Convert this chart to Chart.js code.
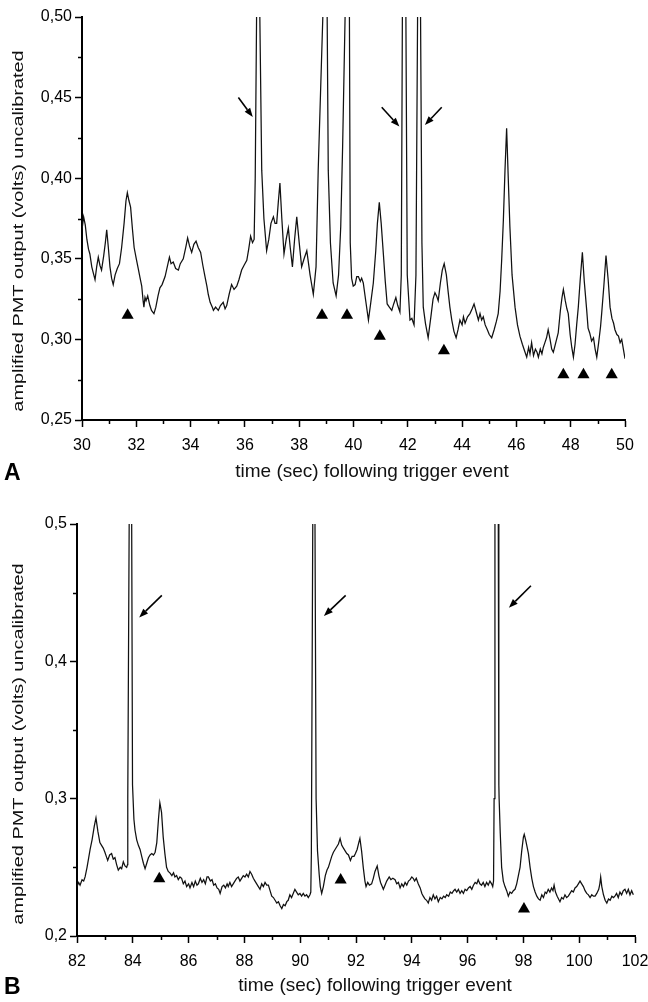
<!DOCTYPE html>
<html>
<head>
<meta charset="utf-8">
<script src="https://cdn.jsdelivr.net/npm/chart.js@4.4.1/dist/chart.umd.min.js"></script>
<style>
  html, body { margin: 0; padding: 0; background: #fff; }
  body { width: 648px; height: 1002px; position: relative; overflow: hidden; font-family: "Liberation Sans", Arial, sans-serif; }
  .panel { position: absolute; left: 0; width: 648px; }
  #panelA { top: 0; height: 490px; }
  #panelB { top: 490px; height: 512px; }
  .tag { position: absolute; left: 4px; font-weight: bold; font-size: 23px; color: #000; }
</style>
</head>
<body>
<div class="panel" id="panelA"><canvas id="chartA"></canvas></div>
<div class="panel" id="panelB"><canvas id="chartB"></canvas></div>
<div class="tag" style="top:459px">A</div>
<div class="tag" style="top:973px">B</div>

<script>
// ------------------------------------------------------------
// Data
// ------------------------------------------------------------
const timeA = [
  30.00, 30.06, 30.12, 30.18, 30.24, 30.29, 30.36, 30.42, 30.48, 30.54, 30.60, 30.66, 30.72, 30.80, 30.86, 30.91, 30.97,
  31.03, 31.09, 31.15, 31.22, 31.30, 31.38, 31.46, 31.55, 31.62, 31.67, 31.73, 31.79, 31.86, 31.92,
  32.00, 32.07, 32.14, 32.20, 32.25, 32.28, 32.32, 32.36, 32.42, 32.50, 32.56, 32.65, 32.72, 32.80, 32.87, 32.95,
  33.06, 33.14, 33.22, 33.28, 33.36, 33.45, 33.55, 33.62, 33.73, 33.82, 33.89, 33.96,
  34.04, 34.12, 34.20, 34.28, 34.37, 34.45, 34.53, 34.60, 34.65, 34.72, 34.80, 34.84, 34.92,
  35.02, 35.10, 35.20, 35.27, 35.33, 35.42, 35.51, 35.60, 35.70, 35.78, 35.88, 35.97,
  36.07, 36.14, 36.21, 36.28, 36.34, 36.38, 36.43, 36.48, 36.55, 36.62, 36.70, 36.80, 36.88, 36.96,
  37.05, 37.11, 37.17, 37.23, 37.29, 37.36, 37.44, 37.52, 37.60, 37.67, 37.75, 37.83, 37.91,
  38.00, 38.09, 38.18, 38.28, 38.40, 38.52, 38.62, 38.70, 38.87, 38.97,
  39.03, 39.07, 39.15, 39.25, 39.36, 39.45, 39.53, 39.60, 39.69, 39.77, 39.85, 39.88, 39.93, 39.99,
  40.06, 40.12, 40.18, 40.25, 40.30, 40.36, 40.45, 40.55, 40.63, 40.73, 40.82, 40.88, 40.95,
  41.02, 41.10, 41.17, 41.24, 41.32, 41.41, 41.48, 41.56, 41.63, 41.71, 41.76, 41.80, 41.865, 41.93, 41.98,
  42.08, 42.15, 42.23, 42.30, 42.36, 42.415, 42.47, 42.52, 42.57, 42.65, 42.75, 42.85, 42.93,
  43.00, 43.06, 43.12, 43.20, 43.27, 43.34, 43.42, 43.49, 43.55, 43.62, 43.70, 43.78, 43.85, 43.92,
  44.00, 44.05, 44.11, 44.20, 44.29, 44.37, 44.44, 44.52, 44.60, 44.66, 44.72, 44.78, 44.85, 44.93,
  45.00, 45.09, 45.18, 45.26, 45.33, 45.40, 45.46, 45.52, 45.58, 45.64, 45.70, 45.76, 45.84, 45.95,
  46.04, 46.13, 46.22, 46.30, 46.38, 46.45, 46.50, 46.56, 46.63, 46.70, 46.76, 46.81, 46.88, 46.94, 46.99,
  47.05, 47.11, 47.17, 47.24, 47.30, 47.36, 47.42, 47.48, 47.54, 47.62, 47.68, 47.73, 47.80, 47.86, 47.91, 47.98,
  48.04, 48.10, 48.16, 48.22, 48.28, 48.35, 48.43, 48.50, 48.59, 48.64, 48.70, 48.77, 48.84, 48.90, 48.96,
  49.03, 49.10, 49.14, 49.22, 49.30, 49.38, 49.45, 49.52, 49.58, 49.63, 49.70, 49.76, 49.82, 49.88, 49.94, 50.00,
];
const voltA = [
  0.368, 0.376, 0.371, 0.362, 0.356, 0.353, 0.345, 0.341, 0.337, 0.345, 0.351, 0.346, 0.343, 0.352, 0.360, 0.368, 0.357,
  0.345, 0.338, 0.334, 0.340, 0.344, 0.347, 0.357, 0.372, 0.386, 0.391, 0.386, 0.382, 0.368, 0.357,
  0.350, 0.344, 0.338, 0.333, 0.324, 0.320, 0.326, 0.324, 0.327, 0.321, 0.318, 0.316, 0.320, 0.327, 0.332, 0.334,
  0.339, 0.345, 0.351, 0.347, 0.348, 0.344, 0.343, 0.347, 0.350, 0.357, 0.363, 0.358,
  0.354, 0.359, 0.361, 0.357, 0.354, 0.346, 0.339, 0.333, 0.328, 0.323, 0.320, 0.318, 0.320,
  0.318, 0.321, 0.323, 0.319, 0.321, 0.328, 0.334, 0.331, 0.333, 0.337, 0.343, 0.346,
  0.349, 0.356, 0.364, 0.360, 0.362, 0.400, 0.500, 0.600, 0.500, 0.405, 0.375, 0.355, 0.362, 0.372,
  0.376, 0.372, 0.372, 0.385, 0.397, 0.375, 0.353, 0.362, 0.369, 0.357, 0.345, 0.362, 0.376,
  0.360, 0.345, 0.350, 0.355, 0.340, 0.328, 0.345, 0.405, 0.500, 0.600,
  0.500, 0.405, 0.360, 0.335, 0.327, 0.340, 0.370, 0.420, 0.500, 0.650, 0.500, 0.360, 0.338, 0.333,
  0.334, 0.339, 0.339, 0.336, 0.338, 0.335, 0.324, 0.312, 0.322, 0.335, 0.355, 0.372, 0.385,
  0.372, 0.353, 0.336, 0.322, 0.320, 0.318, 0.322, 0.326, 0.321, 0.317, 0.340, 0.500, 0.750, 0.500, 0.340,
  0.312, 0.313, 0.309, 0.340, 0.500, 0.750, 0.500, 0.360, 0.320, 0.310, 0.301, 0.314, 0.325,
  0.329, 0.327, 0.324, 0.335, 0.343, 0.347, 0.340, 0.329, 0.320, 0.312, 0.305, 0.301, 0.306, 0.312,
  0.309, 0.314, 0.310, 0.314, 0.316, 0.319, 0.322, 0.317, 0.312, 0.316, 0.312, 0.314, 0.309, 0.306,
  0.303, 0.301, 0.306, 0.311, 0.316, 0.330, 0.350, 0.374, 0.405, 0.431, 0.400, 0.370, 0.340, 0.320,
  0.309, 0.302, 0.297, 0.293, 0.289, 0.295, 0.291, 0.298, 0.290, 0.294, 0.292, 0.289, 0.294, 0.291, 0.295,
  0.298, 0.301, 0.306, 0.300, 0.294, 0.292, 0.296, 0.300, 0.304, 0.318, 0.326, 0.331, 0.324, 0.319, 0.316, 0.303,
  0.295, 0.289, 0.297, 0.309, 0.320, 0.337, 0.354, 0.336, 0.318, 0.307, 0.304, 0.299, 0.301, 0.294, 0.289,
  0.298, 0.308, 0.316, 0.333, 0.352, 0.337, 0.320, 0.313, 0.310, 0.306, 0.303, 0.302, 0.298, 0.300, 0.294, 0.288,
];
const markTimeA = [31.68, 38.84, 39.76, 40.97, 43.33, 47.73, 48.47, 49.51];
const markVoltA = [0.315, 0.315, 0.315, 0.302, 0.293, 0.278, 0.278, 0.278];
const arrowTailA = [[35.76, 0.450], [41.04, 0.444], [43.25, 0.444]];
const arrowTipA = [[36.29, 0.438], [41.69, 0.432], [42.63, 0.433]];

const timeB = [
  82.00, 82.06, 82.11, 82.18, 82.24, 82.29, 82.36, 82.42, 82.47, 82.54, 82.62, 82.68, 82.75, 82.82, 82.88, 82.94,
  83.00, 83.05, 83.10, 83.17, 83.24, 83.30, 83.36, 83.42, 83.48, 83.55, 83.60, 83.66, 83.72, 83.78, 83.81, 83.82, 83.87, 83.915, 83.96, 83.99,
  84.04, 84.08, 84.14, 84.20, 84.26, 84.33, 84.38, 84.44, 84.50, 84.56, 84.62, 84.68, 84.74, 84.80, 84.86, 84.92, 84.97,
  85.03, 85.09, 85.15, 85.21, 85.27, 85.33, 85.40, 85.46, 85.51, 85.57, 85.63, 85.69, 85.75, 85.81, 85.87, 85.93,
  86.00, 86.05, 86.12, 86.18, 86.24, 86.30, 86.35, 86.42, 86.48, 86.54, 86.60, 86.66, 86.71, 86.78, 86.84, 86.90, 86.96,
  87.02, 87.08, 87.13, 87.20, 87.26, 87.32, 87.38, 87.42, 87.48, 87.54, 87.60, 87.66, 87.72, 87.78, 87.84, 87.90, 87.96,
  88.02, 88.08, 88.14, 88.20, 88.26, 88.32, 88.38, 88.44, 88.50, 88.56, 88.62, 88.68, 88.74, 88.80, 88.86, 88.92, 88.98,
  89.04, 89.10, 89.16, 89.22, 89.28, 89.34, 89.40, 89.46, 89.52, 89.57, 89.63, 89.69, 89.75, 89.81, 89.87, 89.93, 89.99,
  90.05, 90.11, 90.17, 90.23, 90.29, 90.35, 90.38, 90.40, 90.45, 90.49, 90.53, 90.57, 90.62, 90.68, 90.72, 90.77, 90.83, 90.90, 90.96,
  91.01, 91.07, 91.13, 91.19, 91.25, 91.31, 91.37, 91.43, 91.49, 91.55, 91.61, 91.67, 91.73, 91.80, 91.86, 91.93, 91.98,
  92.04, 92.10, 92.14, 92.20, 92.26, 92.32, 92.36, 92.42, 92.48, 92.56, 92.62, 92.68, 92.76, 92.82, 92.88, 92.94, 92.98,
  93.04, 93.10, 93.19, 93.25, 93.32, 93.40, 93.46, 93.52, 93.58, 93.64, 93.70, 93.76, 93.82, 93.88, 93.94,
  94.00, 94.05, 94.10, 94.16, 94.23, 94.30, 94.36, 94.41, 94.47, 94.53, 94.59, 94.65, 94.71, 94.77, 94.83, 94.89, 94.95,
  95.02, 95.08, 95.14, 95.20, 95.25, 95.32, 95.38, 95.44, 95.50, 95.55, 95.61, 95.67, 95.73, 95.79, 95.85, 95.91, 95.97,
  96.03, 96.09, 96.15, 96.21, 96.27, 96.33, 96.38, 96.44, 96.50, 96.56, 96.62, 96.68, 96.74, 96.80, 96.86, 96.90, 96.93, 96.95, 96.98,
  97.04, 97.10, 97.12, 97.13, 97.17, 97.22, 97.28, 97.34, 97.40, 97.46, 97.52, 97.58, 97.64, 97.70, 97.76, 97.82, 97.88, 97.94,
  98.00, 98.03, 98.08, 98.13, 98.18, 98.24, 98.30, 98.36, 98.42, 98.48, 98.54, 98.60, 98.66, 98.72, 98.78, 98.83, 98.89, 98.95,
  99.01, 99.06, 99.10, 99.15, 99.21, 99.26, 99.31, 99.37, 99.43, 99.49, 99.55, 99.61, 99.67, 99.73, 99.79, 99.85, 99.91, 99.97,
  100.03, 100.09, 100.15, 100.21, 100.27, 100.33, 100.39, 100.45, 100.51, 100.57, 100.63, 100.70, 100.74, 100.77, 100.81, 100.87, 100.93, 100.99,
  101.05, 101.11, 101.17, 101.23, 101.28, 101.34, 101.40, 101.46, 101.52, 101.58, 101.64, 101.70, 101.76, 101.82, 101.88, 101.94,
];
const voltB = [
  0.236, 0.239, 0.237, 0.241, 0.240, 0.243, 0.250, 0.257, 0.263, 0.270, 0.280, 0.286, 0.276, 0.268, 0.266, 0.264,
  0.261, 0.258, 0.255, 0.259, 0.260, 0.256, 0.257, 0.252, 0.248, 0.250, 0.249, 0.254, 0.251, 0.250, 0.252, 0.300, 0.500, 0.650, 0.500, 0.310,
  0.285, 0.277, 0.270, 0.266, 0.263, 0.257, 0.253, 0.249, 0.253, 0.257, 0.259, 0.260, 0.259, 0.261, 0.268, 0.285, 0.297,
  0.290, 0.272, 0.260, 0.250, 0.247, 0.246, 0.244, 0.246, 0.243, 0.244, 0.241, 0.243, 0.242, 0.238, 0.240, 0.236,
  0.238, 0.235, 0.239, 0.236, 0.240, 0.237, 0.238, 0.242, 0.239, 0.241, 0.238, 0.243, 0.243, 0.240, 0.241, 0.237, 0.238,
  0.235, 0.234, 0.231, 0.236, 0.237, 0.235, 0.238, 0.236, 0.239, 0.236, 0.238, 0.240, 0.242, 0.243, 0.240, 0.242, 0.244,
  0.243, 0.245, 0.243, 0.247, 0.245, 0.242, 0.240, 0.238, 0.236, 0.234, 0.238, 0.236, 0.239, 0.237, 0.237, 0.233, 0.229,
  0.228, 0.226, 0.224, 0.225, 0.222, 0.220, 0.223, 0.222, 0.225, 0.226, 0.230, 0.228, 0.231, 0.234, 0.232, 0.230, 0.231,
  0.229, 0.231, 0.229, 0.230, 0.228, 0.230, 0.232, 0.260, 0.500, 0.650, 0.500, 0.300, 0.262, 0.245, 0.236, 0.231, 0.236, 0.244, 0.248,
  0.250, 0.254, 0.258, 0.261, 0.263, 0.265, 0.267, 0.271, 0.266, 0.264, 0.262, 0.260, 0.259, 0.255, 0.258, 0.258, 0.260,
  0.263, 0.268, 0.271, 0.262, 0.250, 0.240, 0.236, 0.239, 0.237, 0.238, 0.242, 0.247, 0.251, 0.244, 0.239, 0.236, 0.234,
  0.237, 0.240, 0.243, 0.241, 0.242, 0.241, 0.238, 0.239, 0.235, 0.238, 0.236, 0.239, 0.237, 0.240, 0.241,
  0.243, 0.242, 0.240, 0.242, 0.238, 0.235, 0.231, 0.229, 0.227, 0.226, 0.224, 0.228, 0.226, 0.230, 0.227, 0.229, 0.225,
  0.228, 0.227, 0.229, 0.228, 0.230, 0.229, 0.232, 0.231, 0.233, 0.234, 0.232, 0.234, 0.231, 0.233, 0.231, 0.234, 0.233,
  0.235, 0.236, 0.234, 0.237, 0.239, 0.238, 0.241, 0.238, 0.237, 0.239, 0.236, 0.239, 0.237, 0.240, 0.238, 0.236, 0.240, 0.300, 0.500,
  0.650, 0.500, 0.310, 0.300, 0.275, 0.250, 0.240, 0.236, 0.233, 0.229, 0.232, 0.231, 0.233, 0.234, 0.238, 0.244, 0.250, 0.262,
  0.272, 0.274, 0.270, 0.265, 0.260, 0.250, 0.242, 0.236, 0.232, 0.229, 0.227, 0.226, 0.230, 0.228, 0.232, 0.231, 0.234, 0.232,
  0.235, 0.233, 0.237, 0.232, 0.229, 0.227, 0.225, 0.228, 0.227, 0.230, 0.228, 0.229, 0.231, 0.233, 0.232, 0.235, 0.236, 0.238,
  0.240, 0.238, 0.236, 0.233, 0.231, 0.230, 0.228, 0.230, 0.229, 0.229, 0.231, 0.234, 0.238, 0.243, 0.236, 0.230, 0.226, 0.224,
  0.227, 0.226, 0.229, 0.228, 0.229, 0.231, 0.228, 0.232, 0.230, 0.233, 0.234, 0.231, 0.234, 0.230, 0.233, 0.230,
];
const markTimeB = [84.95, 91.45, 98.02];
const markVoltB = [0.2417, 0.2407, 0.2197];
const arrowTailB = [[85.04, 0.448], [91.63, 0.448], [98.27, 0.455]];
const arrowTipB = [[84.23, 0.432], [90.85, 0.433], [97.48, 0.439]];

const Y_TITLE = 'amplified PMT output (volts) uncalibrated';
const X_TITLE = 'time (sec) following trigger event';
const FONT = '"Liberation Sans", Arial, sans-serif';

// ------------------------------------------------------------
// Extra drawing: minor ticks, arrows, axis titles
// ------------------------------------------------------------
const decor = {
  id: 'decor',
  afterDraw(chart, args, opts) {
    const { ctx } = chart;
    const xs = chart.scales.x, ys = chart.scales.y;
    const area = chart.chartArea;
    ctx.save();
    ctx.strokeStyle = '#000';
    ctx.lineWidth = 1.5;

    // minor ticks, halfway between the labelled ones
    ctx.beginPath();
    for (let v = xs.min + opts.xMinor; v < xs.max; v += opts.xMinor * 2) {
      const px = Math.round(xs.getPixelForValue(v)) + 0.5;
      ctx.moveTo(px, area.bottom);
      ctx.lineTo(px, area.bottom + 4);
    }
    for (let v = ys.min + opts.yMinor; v < ys.max; v += opts.yMinor * 2) {
      const py = Math.round(ys.getPixelForValue(v)) + 0.5;
      ctx.moveTo(area.left, py);
      ctx.lineTo(area.left - 4, py);
    }
    ctx.stroke();

    // arrows pointing at the large transients
    ctx.fillStyle = '#000';
    ctx.lineWidth = 1.6;
    opts.tails.forEach((tail, i) => {
      const tip = opts.tips[i];
      const x0 = xs.getPixelForValue(tail[0]), y0 = ys.getPixelForValue(tail[1]);
      const x1 = xs.getPixelForValue(tip[0]), y1 = ys.getPixelForValue(tip[1]);
      const ang = Math.atan2(y1 - y0, x1 - x0);
      const head = 9, half = 3.4;
      const bx = x1 - Math.cos(ang) * head, by = y1 - Math.sin(ang) * head;
      ctx.beginPath();
      ctx.moveTo(x0, y0);
      ctx.lineTo(bx, by);
      ctx.stroke();
      ctx.beginPath();
      ctx.moveTo(x1, y1);
      ctx.lineTo(bx - Math.sin(ang) * half, by + Math.cos(ang) * half);
      ctx.lineTo(bx + Math.sin(ang) * half, by - Math.cos(ang) * half);
      ctx.closePath();
      ctx.fill();
    });

    // axis titles (the y title is drawn stretched, as in the printed figure)
    ctx.fillStyle = '#111';
    ctx.textAlign = 'center';
    ctx.textBaseline = 'middle';
    ctx.font = `19px ${FONT}`;
    ctx.fillText(X_TITLE, opts.xTitleAt[0], opts.xTitleAt[1]);

    ctx.translate(opts.yTitleAt[0], opts.yTitleAt[1]);
    ctx.rotate(-Math.PI / 2);
    ctx.scale(1.42, 1);
    ctx.font = `14px ${FONT}`;
    ctx.fillText(Y_TITLE, 0, 0);
    ctx.restore();
  },
};

function makeChart(canvasId, cfg) {
  const trace = cfg.time.map((t, i) => ({ x: t, y: cfg.volt[i] }));
  const marks = cfg.markTime.map((t, i) => ({ x: t, y: cfg.markVolt[i] }));
  const tickFont = { family: FONT, size: 16 };

  return new Chart(document.getElementById(canvasId), {
    type: 'line',
    data: {
      datasets: [
        {
          data: trace,
          borderColor: '#111',
          borderWidth: 1.25,
          pointRadius: 0,
          tension: 0,
          order: 2,
        },
        {
          type: 'scatter',
          data: marks,
          pointStyle: 'triangle',
          pointRadius: 7,
          pointBackgroundColor: '#000',
          pointBorderWidth: 0,
          order: 1,
        },
      ],
    },
    options: {
      responsive: true,
      maintainAspectRatio: false,
      animation: false,
      events: [],
      layout: { padding: cfg.padding },
      plugins: {
        legend: { display: false },
        tooltip: { enabled: false },
        decor: {
          xMinor: cfg.xStep / 2,
          yMinor: cfg.yStep / 2,
          tails: cfg.tails,
          tips: cfg.tips,
          xTitleAt: cfg.xTitleAt,
          yTitleAt: cfg.yTitleAt,
        },
      },
      scales: {
        x: {
          type: 'linear',
          min: cfg.xMin,
          max: cfg.xMax,
          afterFit: (s) => {
            s.height = cfg.xAxisHeight;
            s.paddingLeft = 0;
            s.paddingRight = 0;
          },
          ticks: { stepSize: cfg.xStep, font: tickFont, color: '#000', padding: 9, maxRotation: 0, autoSkip: false },
          grid: { drawOnChartArea: false, tickLength: 7, tickWidth: 1.5, tickColor: '#000' },
          border: { display: true, color: '#000', width: 2 },
        },
        y: {
          min: cfg.yMin,
          max: cfg.yMax,
          afterFit: (s) => {
            s.width = cfg.yAxisWidth;
            s.paddingTop = 0;
            s.paddingBottom = 0;
          },
          ticks: {
            stepSize: cfg.yStep,
            font: tickFont,
            color: '#000',
            padding: 3,
            callback: (v) => v.toFixed(cfg.decimals).replace('.', ','),
          },
          grid: { drawOnChartArea: false, tickLength: 7, tickWidth: 1.5, tickColor: '#000' },
          border: { display: true, color: '#000', width: 2 },
        },
      },
    },
    plugins: [decor],
  });
}

makeChart('chartA', {
  time: timeA, volt: voltA, markTime: markTimeA, markVolt: markVoltA,
  tails: arrowTailA, tips: arrowTipA,
  xMin: 30, xMax: 50, xStep: 2,
  yMin: 0.25, yMax: 0.50, yStep: 0.05, decimals: 2,
  padding: { left: 0, right: 23, top: 17, bottom: 0 },
  yAxisWidth: 82, xAxisHeight: 70,
  xTitleAt: [372, 472], yTitleAt: [19, 231],
});

makeChart('chartB', {
  time: timeB, volt: voltB, markTime: markTimeB, markVolt: markVoltB,
  tails: arrowTailB, tips: arrowTipB,
  xMin: 82, xMax: 102, xStep: 2,
  yMin: 0.2, yMax: 0.5, yStep: 0.1, decimals: 1,
  padding: { left: 0, right: 13, top: 34, bottom: 0 },
  yAxisWidth: 77, xAxisHeight: 66,
  xTitleAt: [375, 496], yTitleAt: [19, 254],
});
</script>
</body>
</html>
